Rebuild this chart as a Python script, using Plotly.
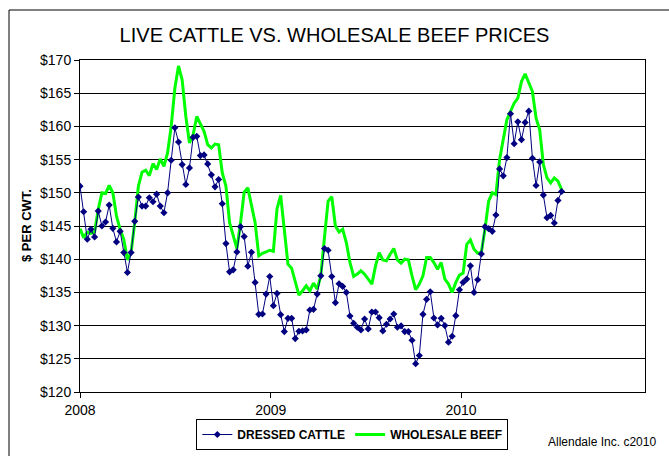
import pandas as pd
import plotly.graph_objects as go

# Weekly observations starting first week of 2008
dates = pd.date_range("2008-01-01", periods=133, freq="7D")

dressed_cattle = [
    151.0, 147.15, 143.0, 144.5, 143.35, 147.25, 145.0, 145.6, 148.15, 144.65,
    142.6, 144.2, 141.0, 138.0, 141.0, 145.7, 149.35, 148.0, 148.0, 149.25,
    148.65, 149.8, 148.0, 147.0, 150.0, 154.9, 159.8, 157.65, 154.25, 151.25,
    153.75, 158.35, 158.5, 155.6, 155.7, 154.35, 152.7, 150.9, 152.0, 148.35,
    142.35, 138.1, 138.4, 141.1, 144.9, 143.4, 138.95, 141.05, 136.5, 131.7,
    131.75, 134.75, 137.4, 133.0, 134.85, 131.65, 129.1, 131.1, 131.1, 128.05,
    129.15, 129.2, 129.35, 132.35, 132.45, 134.75, 137.5, 141.6, 141.35, 137.4,
    133.45, 136.3, 135.9, 135.0, 131.45, 130.35, 129.75, 129.35, 131.0, 129.5,
    132.05, 132.05, 131.2, 129.2, 130.2, 131.0, 131.75, 129.75, 129.95, 129.1,
    129.1, 127.8, 124.25, 125.5, 131.7, 133.95, 135.1, 131.15, 130.1, 131.1,
    130.0, 127.5, 128.4, 131.5, 135.4, 136.5, 137.0, 139.0, 135.0, 136.9,
    140.8, 144.9, 144.6, 144.2, 146.65, 153.6, 152.55, 155.3, 161.9, 157.4,
    160.7, 158.0, 160.6, 162.3, 155.2, 151.1, 154.65, 149.65, 146.25, 146.6,
    145.45, 148.85, 150.2,
]

wholesale_beef = [
    144.6, 143.25, 144.1, 143.9, 144.1, 147.5, 150.0, 149.9, 151.1, 150.0,
    146.5, 144.5, 143.0, 139.9, 141.0, 145.5, 151.0, 153.1, 153.4, 152.6,
    154.4, 153.5, 155.1, 154.0, 156.0, 160.0, 165.75, 169.1, 167.0, 161.5,
    157.5, 158.75, 161.5, 160.25, 159.25, 157.25, 156.75, 157.35, 157.25, 153.0,
    151.0, 145.5, 143.5, 141.6, 145.5, 150.1, 150.75, 148.0, 145.5, 140.5,
    140.9, 141.1, 141.35, 141.2, 147.6, 149.6, 144.5, 139.25, 138.65, 136.5,
    134.6, 135.25, 136.0, 135.25, 136.4, 135.5, 137.5, 143.25, 148.75, 149.4,
    145.0, 144.1, 144.5, 142.5, 139.5, 137.4, 137.75, 138.25, 137.75, 137.0,
    136.25, 139.0, 141.0, 139.9, 139.75, 140.75, 141.6, 139.9, 139.4, 140.0,
    139.9, 137.5, 135.4, 136.25, 137.5, 140.25, 140.25, 139.5, 138.5, 139.5,
    137.0, 136.25, 135.0, 136.5, 137.6, 137.9, 142.25, 142.9, 141.5, 140.9,
    141.0, 144.5, 148.75, 150.0, 149.75, 155.0, 158.0, 161.0, 162.25, 163.5,
    164.25, 166.75, 167.9, 166.5, 165.25, 161.25, 159.5, 154.25, 152.25, 151.5,
    152.25, 151.75, 150.5,
]

year_ticks = ["2008-01-01", "2009-01-01", "2010-01-01"]
year_labels = ["2008", "2009", "2010"]

FONT = "Liberation Sans, Arial, sans-serif"

fig = go.Figure()
fig.add_trace(go.Scatter(
    x=dates, y=wholesale_beef, name="WHOLESALE BEEF", mode="lines",
    line=dict(color="#00FF00", width=3), legendrank=2,
))
fig.add_trace(go.Scatter(
    x=dates, y=dressed_cattle, name="DRESSED CATTLE", mode="lines+markers",
    line=dict(color="#000080", width=1),
    marker=dict(symbol="diamond", size=5.5, color="#000080"), legendrank=1,
))

fig.update_layout(
    width=669, height=456,
    margin=dict(l=80, r=24, t=60, b=64, autoexpand=False),
    paper_bgcolor="white", plot_bgcolor="white",
    font=dict(family=FONT, color="black"),
    title=dict(text="LIVE CATTLE VS. WHOLESALE BEEF PRICES",
               font=dict(size=20, family=FONT, color="black"),
               x=0.5, xanchor="center", y=1 - 35 / 456, yanchor="middle"),
    showlegend=True,
    legend=dict(orientation="h", x=0.482, xanchor="center",
                yref="container", y=(456 - 419) / 456, yanchor="top",
                bordercolor="black", borderwidth=1,
                font=dict(size=12, family=FONT, color="black", weight="bold"),
                itemwidth=30, traceorder="normal", bgcolor="white"),
    xaxis=dict(type="date", range=["2008-01-01", "2010-12-20"],
               tickvals=year_ticks, ticktext=year_labels,
               ticks="outside", ticklen=5, tickcolor="black",
               showline=True, linecolor="black", linewidth=1, mirror=True,
               showgrid=False, zeroline=False, automargin=False,
               tickfont=dict(size=14, family=FONT, color="black")),
    yaxis=dict(range=[120, 170], dtick=5, tick0=120, tickprefix="$",
               ticks="outside", ticklen=5, tickcolor="black",
               showline=True, linecolor="black", linewidth=1, mirror=True,
               showgrid=True, gridcolor="black", gridwidth=1, zeroline=False,
               automargin=False,
               tickfont=dict(size=14, family=FONT, color="black")),
)

fig.add_annotation(text="<b>$ PER CWT.</b>", xref="paper", yref="paper",
                   x=(26 - 80) / 565, y=0.5, xanchor="center", yanchor="middle",
                   textangle=-90, showarrow=False,
                   font=dict(size=13, family=FONT, color="black"))
fig.add_annotation(text="Allendale Inc. c2010", xref="paper", yref="paper",
                   x=(658 - 80) / 565, y=-(442 - 392) / 332,
                   xanchor="right", yanchor="middle", showarrow=False,
                   font=dict(size=12, family=FONT, color="black"))

# outer chart frame (only left and top edges visible in the reference)
fig.add_shape(type="line", xref="paper", yref="paper",
              x0=(9 - 80) / 565, x1=(9 - 80) / 565, y0=1 + 50 / 332, y1=-(456 - 392) / 332,
              line=dict(color="black", width=1))
fig.add_shape(type="line", xref="paper", yref="paper",
              x0=(9 - 80) / 565, x1=(669 - 80) / 565, y0=1 + 50 / 332, y1=1 + 50 / 332,
              line=dict(color="black", width=1))

fig.write_html("out.html", config={"displayModeBar": False},
               post_script="document.body.style.margin='0';document.body.style.overflow='hidden';")
